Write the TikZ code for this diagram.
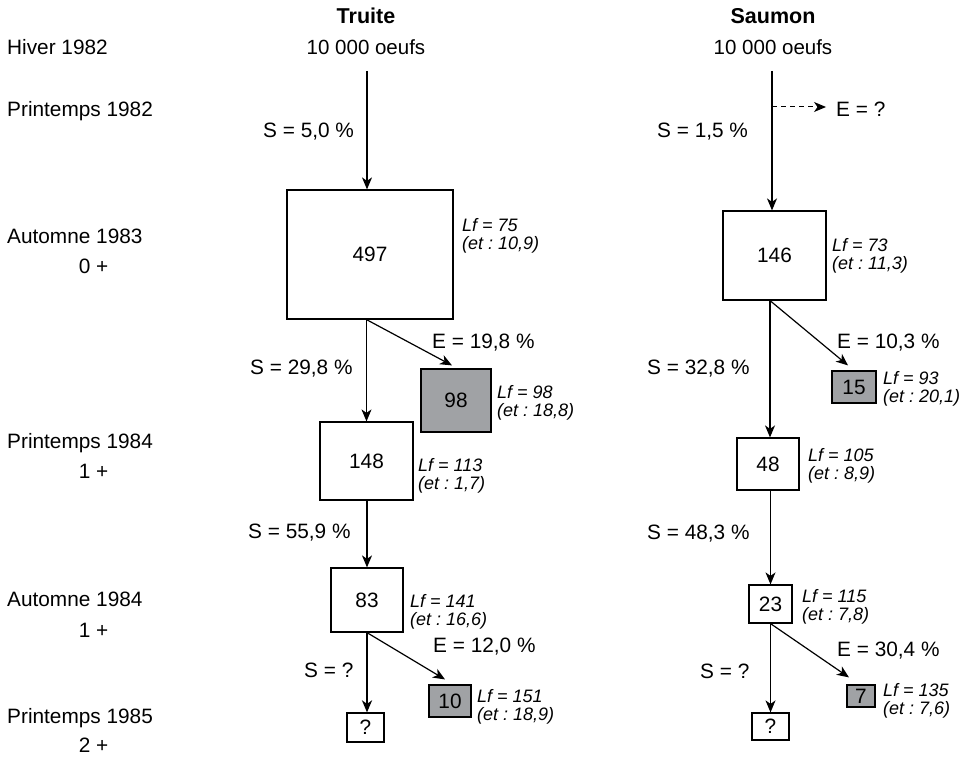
\documentclass[tikz,border=0pt]{standalone}
\usepackage{fontspec}
\setmainfont{Liberation Sans}
\usetikzlibrary{arrows.meta}
\definecolor{boxgray}{HTML}{A0A2A5}
\frenchspacing
\newcommand{\lfl}[2]{\begin{tabular}[t]{@{}l@{}}Lf = #1\\(et : #2)\end{tabular}}
\begin{document}
\frenchspacing
\begin{tikzpicture}[x=1pt,y=-1pt,
 txt/.style={font=\fontsize{20.8}{24}\selectfont, inner sep=0pt, anchor=base west},
 hd/.style={font=\fontsize{21.5}{24}\selectfont\bfseries, inner sep=0pt, anchor=base},
 lf/.style={font=\fontsize{18}{17}\selectfont\itshape, inner sep=0pt, anchor=base west},
 box/.style={draw, line width=1.2pt, inner sep=0pt, font=\fontsize{20.8}{24}\selectfont},
 gbox/.style={box, fill=boxgray},
 arr/.style={line width=1.2pt, -{Stealth[length=12pt,width=10pt,inset=3.5pt]}},
]
\useasboundingbox (0,0) rectangle (960,757);

% left column
\node[txt] (l1) at (7,55) {Hiver 1982};
\node[txt] (l2) at (7,117) {Printemps 1982};
\node[txt] (l3) at (7,243) {Automne 1983};
\node[txt,anchor=base] (l3a) at (93.5,273) {0 +};
\node[txt] (l4) at (7,448) {Printemps 1984};
\node[txt,anchor=base] (l4a) at (93.5,478) {1 +};
\node[txt] (l5) at (7,606) {Automne 1984};
\node[txt,anchor=base] (l5a) at (93.5,637) {1 +};
\node[txt] (l6) at (7,723) {Printemps 1985};
\node[txt,anchor=base] (l6a) at (93.5,752) {2 +};

% headers
\node[hd] (th) at (366,24) {Truite};
\node[txt,anchor=base,font=\fontsize{20.5}{24}\selectfont] (to) at (366,55) {10 000 oeufs};
\node[hd] (sh) at (773,24) {Saumon};
\node[txt,anchor=base,font=\fontsize{20.5}{24}\selectfont] (so) at (773,55) {10 000 oeufs};

% Truite boxes
\node[box, minimum width=166pt, minimum height=129pt] (t0) at (370,254.5) {497};
\node[gbox, minimum width=70pt, minimum height=63pt] (t0e) at (456,400.5) {98};
\node[box, minimum width=93pt, minimum height=78pt] (t1) at (366.5,461) {148};
\node[box, minimum width=72pt, minimum height=64pt] (t2) at (367,600) {83};
\node[box, minimum width=37pt, minimum height=29pt] (t3) at (365.5,727.5) {?};
\node[gbox, minimum width=42pt, minimum height=32pt] (t2e) at (450,701) {10};

% Saumon boxes
\node[box, minimum width=103pt, minimum height=89pt] (s0) at (774.5,255.5) {146};
\node[gbox, minimum width=44pt, minimum height=32pt] (s0e) at (854,387) {15};
\node[box, minimum width=62pt, minimum height=52pt] (s1) at (768,464) {48};
\node[box, minimum width=43pt, minimum height=38pt] (s2) at (770.5,604) {23};
\node[box, minimum width=37pt, minimum height=27pt] (s3) at (770.5,726.5) {?};
\node[gbox, minimum width=28pt, minimum height=22pt] (s2e) at (861,696) {7};

% Truite arrows
\coordinate (ta) at (367,71);
\draw[arr] (ta) -- (ta |- t0.north);
\draw[arr] (t1.north |- t0.south) -- (t1.north);
\draw[arr] (t1.north |- t0.south) -- ([xshift=-4pt,yshift=3pt]t0e.north);
\draw[arr] (t2.north |- t1.south) -- (t2.north);
\draw[arr, line width=2pt] (t2.south) -- (t2.south |- t3.north);
\draw[arr] (t2.south) -- ([xshift=-5pt,yshift=5pt]t2e.north);

% Saumon arrows
\coordinate (sa) at (772,71);
\draw[arr] (sa) -- (sa |- s0.north);
\node[txt] (eq) at (836,117) {E = ?};
\coordinate (sd) at (772,107);
\coordinate (se) at ([xshift=-10pt]eq.west);
\draw[arr, line width=1pt, dash pattern=on 5pt off 4pt] (sd) -- (se |- sd);
\coordinate (sx) at ([xshift=2pt]s1.north);
\draw[arr] (sx |- s0.south) -- (sx);
\draw[arr] (sx |- s0.south) -- ([xshift=-6pt,yshift=5pt]s0e.north);
\draw[arr] (s2.north |- s1.south) -- (s2.north);
\draw[arr] (s2.south) -- (s2.south |- s3.north);
\draw[arr] (s2.south) -- ([xshift=-12pt,yshift=7pt]s2e.north);

% Truite labels
\node[txt] (ts0) at (263,137) {S = 5,0 \%};
\node[lf] (tl0) at (462,231) {\lfl{75}{10,9}};
\node[txt] (te0) at (432,348) {E = 19,8 \%};
\node[txt] (ts1) at (250,374) {S = 29,8 \%};
\node[lf] (tl0e) at (497,398) {\lfl{98}{18,8}};
\node[lf] (tl1) at (418,471) {\lfl{113}{1,7}};
\node[txt] (ts2) at (248,538) {S = 55,9 \%};
\node[lf] (tl2) at (410,607) {\lfl{141}{16,6}};
\node[txt] (te2) at (433,652) {E = 12,0 \%};
\node[txt] (ts3) at (304,677) {S = ?};
\node[lf] (tl2e) at (477,702) {\lfl{151}{18,9}};

% Saumon labels
\node[txt] (ss0) at (657,137) {S = 1,5 \%};
\node[lf] (sl0) at (832,251) {\lfl{73}{11,3}};
\node[txt] (se0) at (837,348) {E = 10,3 \%};
\node[txt] (ss1) at (647,374) {S = 32,8 \%};
\node[lf] (sl0e) at (883,384) {\lfl{93}{20,1}};
\node[lf] (sl1) at (808,461) {\lfl{105}{8,9}};
\node[txt] (ss2) at (647,539) {S = 48,3 \%};
\node[lf] (sl2) at (802,602) {\lfl{115}{7,8}};
\node[txt] (se2) at (837,656) {E = 30,4 \%};
\node[txt] (ss3) at (700,678) {S = ?};
\node[lf] (sl2e) at (883,696) {\lfl{135}{7,6}};
\end{tikzpicture}
\end{document}
